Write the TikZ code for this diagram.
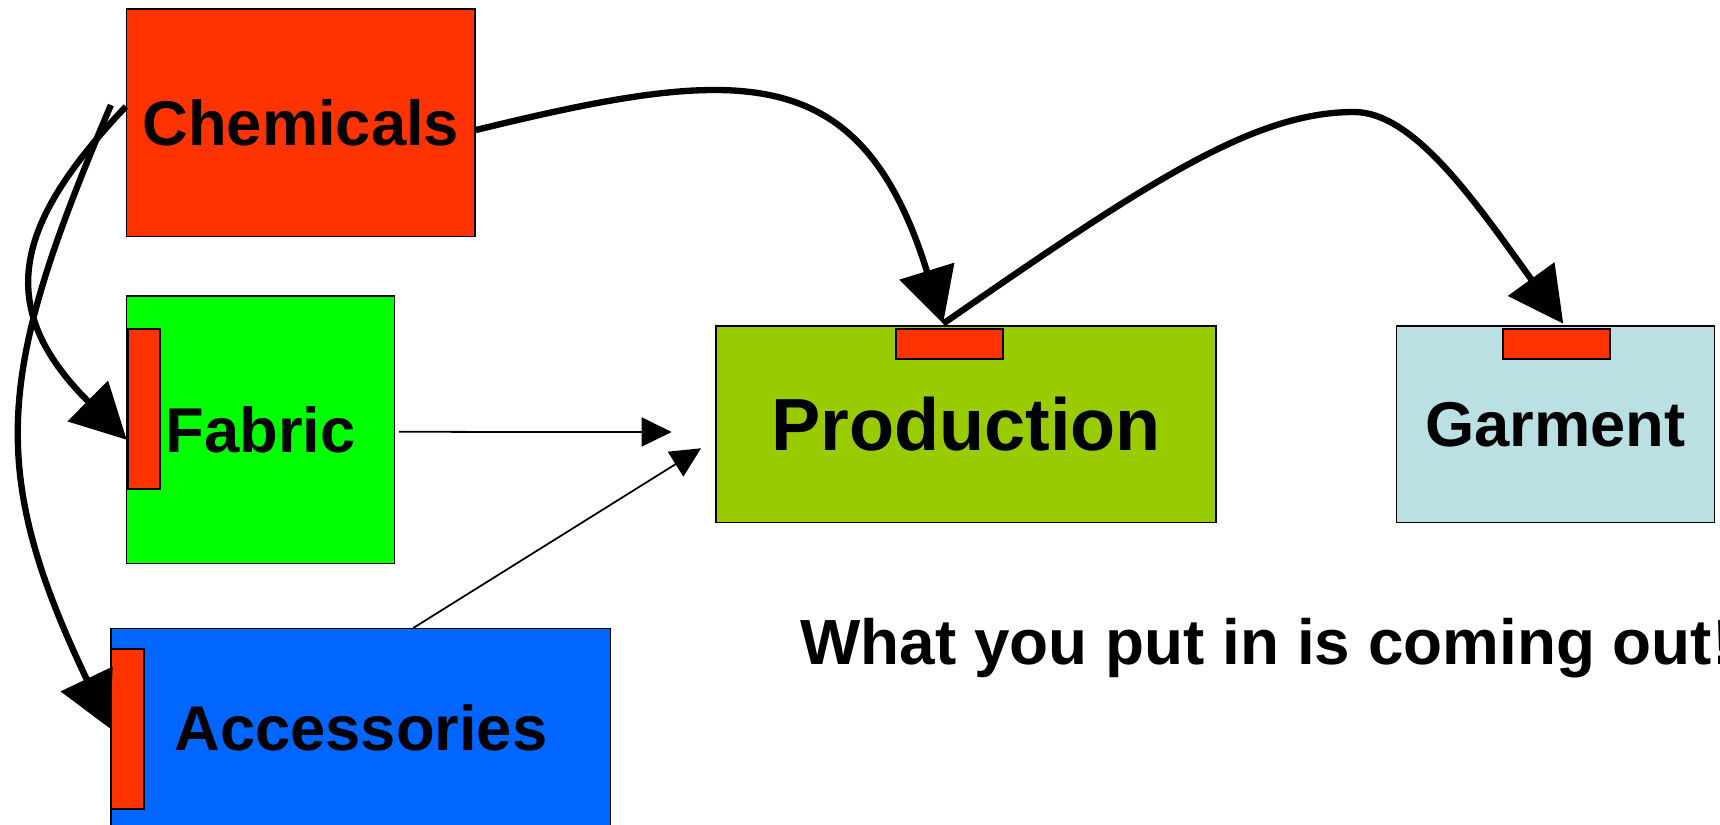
\documentclass[tikz,border=0pt]{standalone}
\usepackage{fontspec}
\setmainfont{Liberation Sans}
\usetikzlibrary{arrows.meta}

\definecolor{chemred}{HTML}{FF3300}
\definecolor{fabgreen}{HTML}{00FF00}
\definecolor{accblue}{HTML}{0066FF}
\definecolor{prodgreen}{HTML}{99CC00}
\definecolor{garblue}{HTML}{BBE0E3}

\tikzset{
    box/.style={draw=black, line width=0.4pt, inner sep=0pt, font=\fontsize{18}{20}\selectfont\bfseries},
    tab/.style={draw=black, line width=0.6pt, fill=chemred, inner sep=0pt},
    bigarrow/.style={line width=1.8pt, -{Triangle[length=5.5mm,width=5.6mm]}},
    smallarrow/.style={line width=0.5pt, -{Triangle[length=3mm,width=2.9mm]}},
}

\begin{document}
\begin{tikzpicture}[x=0.01cm, y=-0.01cm] %1 unit = 1px
            \useasboundingbox (0,0) rectangle (1720,825);

            % boxes
            \node[box, fill=chemred, minimum width=3.483cm, minimum height=2.273cm] (chem) at (300.85,122.55) {Chemicals};
            \node[box, fill=fabgreen, minimum width=2.676cm, minimum height=2.673cm] (fab) at (260.5,429.85) {Fabric};
            \node[box, fill=accblue, minimum width=4.991cm, minimum height=1.986cm] (acc) at (360.85,728) {Accessories};
            \node[box, fill=prodgreen, minimum width=4.997cm, minimum height=1.963cm, font=\fontsize{21}{24}\selectfont\bfseries] (prod) at (966.15,424.35) {Production};
            \node[box, fill=garblue, minimum width=3.181cm, minimum height=1.963cm] (gar) at (1555.45,424.35) {Garment};

            % red tabs
            \node[tab, minimum width=0.323cm, minimum height=1.6cm] (fabtab) at (143.95,408.8) {};
            \node[tab, minimum width=0.324cm, minimum height=1.6cm] (acctab) at (127.5,728.7) {};
            \node[tab, minimum width=1.07cm, minimum height=0.306cm] (prodtab) at (949.1,344.1) {};
            \node[tab, minimum width=1.07cm, minimum height=0.306cm] (gartab) at (1556.8,344.1) {};

            \node[anchor=base west, inner sep=0pt, font=\fontsize{18.15}{20}\selectfont\bfseries] (motto) at (800,664.5) {What you put in is coming out!};

            \coordinate (prodtop) at ([shift={(-6,-4)}]prodtab.north);
            \coordinate (gartop) at ([shift={(6.5,-4)}]gartab.north);
            \coordinate (bend) at (1354,112);
            \coordinate (fabend) at (671.7,432);
            \coordinate (accend) at (701,448.3);

            % thick arrows
            \draw[bigarrow] ([shift={(0,7.5)}]chem.east) .. controls +(262,-64) and +(-82.6,-267.4) .. (prodtop);
            \draw[bigarrow] (prodtop) .. controls +(205.5,-142.5) and +(-100,0) .. (bend)
                .. controls +(60,0) and +(-87.75,-121.65) .. (gartop);
            \draw[bigarrow] ([shift={(0,-16)}]chem.west) .. controls +(-110,116) and +(-134.7,-134) .. ([shift={(0,31)}]fabtab.west);
            \draw[bigarrow] ([shift={(-15,-17.5)}]chem.west) .. controls +(-113.7,266.8) and +(-124.7,-261.9) .. (acctab.west);

            % thin arrows
            \draw[smallarrow] ([shift={(4,2)}]fab.east) -- (fabend);
            \draw[smallarrow] ([shift={(52.5,0)}]acc.north) -- (accend);
        \end{tikzpicture}
\end{document}
